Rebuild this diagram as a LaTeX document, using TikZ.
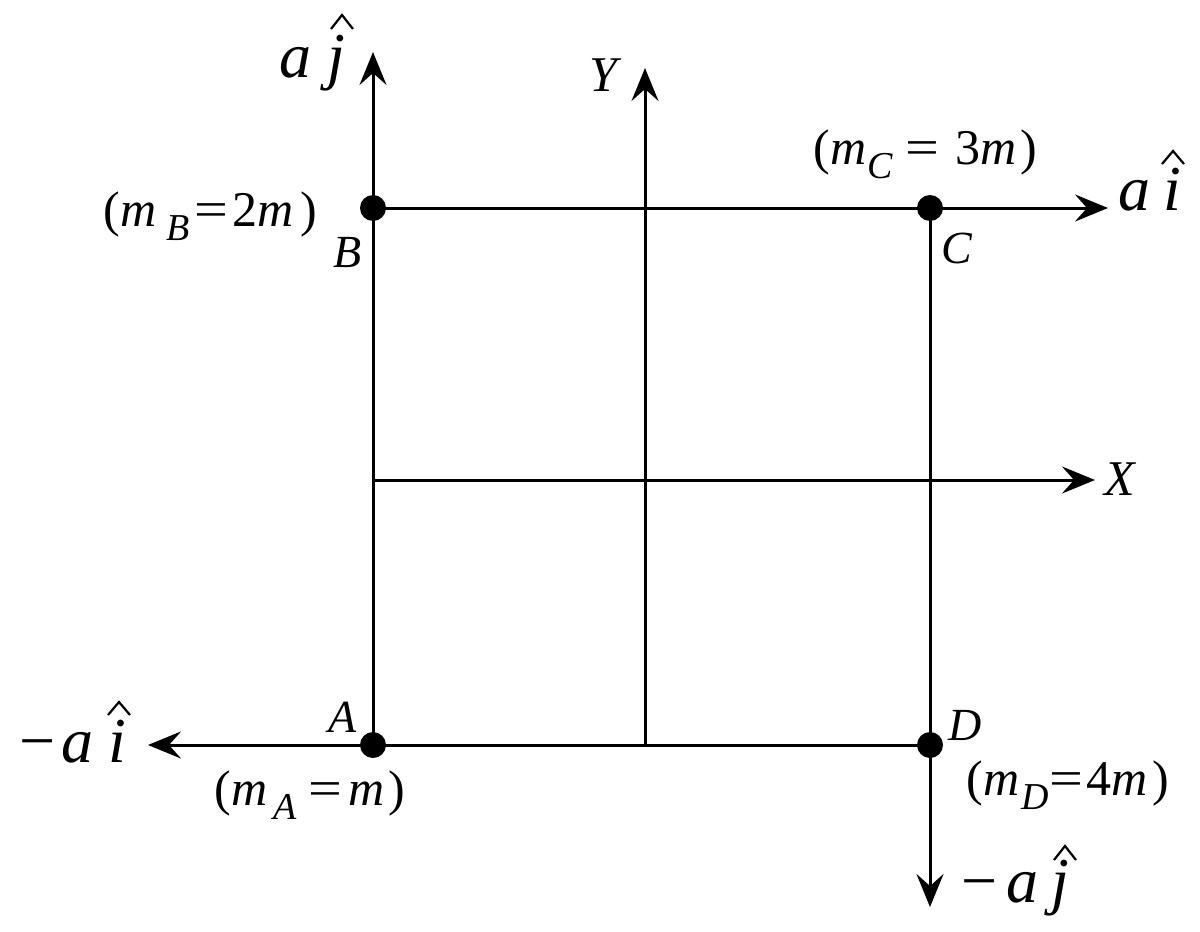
\documentclass[tikz,border=0pt]{standalone}
\usepackage{fontspec}
\usepackage{graphicx}
\setmainfont{Liberation Serif}
\usetikzlibrary{arrows.meta}
\newcommand{\msub}[1]{\raisebox{-3.6pt}{\fontsize{9.5}{10}\selectfont\textit{#1}}}
\newcommand{\wideeq}{\scalebox{1.2}[1]{=}}
\begin{document}
\begin{tikzpicture}[x=0.25pt,y=-0.25pt,line width=0.75pt,
  >={Stealth[length=8.25pt,width=6.75pt,inset=3pt]},
  dot/.style={circle,fill=black,inner sep=0pt,minimum size=6.5pt},
  ptlabel/.style={font=\fontsize{11.5}{12}\selectfont\itshape,inner sep=0pt,anchor=base west},
  mass/.style={font=\fontsize{12.5}{14}\selectfont,inner sep=0pt,anchor=base west},
  veclabel/.style={font=\fontsize{16}{17}\selectfont\itshape,inner sep=0pt,anchor=base west},
  axlabel/.style={font=\fontsize{12.5}{13}\selectfont\itshape,inner sep=0pt,anchor=base west},
  hatmark/.style={line width=0.55pt,line join=miter}]
\useasboundingbox (0,0) rectangle (1200,932);

% arrow ends and axis ends
\coordinate (tAJ) at (373,52);
\coordinate (tAI) at (1108,208);
\coordinate (tMAI) at (148,745);
\coordinate (tMAJ) at (930,907);
\coordinate (yb) at (645,745);
\coordinate (yt) at (645,68);
\coordinate (xl) at (373,480);
\coordinate (xr) at (1095,480);

% masses
\node[dot] (A) at (373,745) {};
\node[dot] (B) at (373,208) {};
\node[dot] (C) at (930,208) {};
\node[dot] (D) at (930,745) {};

% square
\draw (A.center) -- (B.center);
\draw (B.center) -- (C.center);
\draw (C.center) -- (D.center);
\draw (D.center) -- (A.center);

% acceleration arrows
\draw[->] (B.center) -- (tAJ);
\draw[->] (C.center) -- (tAI);
\draw[->] (A.center) -- (tMAI);
\draw[->] (D.center) -- (tMAJ);

% axes
\draw[->] (yb) -- (yt);
\draw[->] (xl) -- (xr);

% point labels
\node[ptlabel] (lA) at (327,732) {A};
\node[ptlabel] (lB) at (332,267) {B};
\node[ptlabel] (lC) at (940,263) {C};
\node[ptlabel] (lD) at (947,740) {D};

% mass labels
\node[mass] (mB) at (102,226) {(\textit{m}\hspace{2.5pt}\msub{B}\hspace{1.2pt}\wideeq\hspace{1.2pt}2\textit{m}\hspace{1.5pt})};
\node[mass] (mC) at (812,164) {(\textit{m}\hspace{0.3pt}\msub{C}\hspace{3pt}\wideeq\hspace{4pt}3\textit{m}\hspace{1pt})};
\node[mass] (mA) at (213,805) {(\textit{m}\hspace{1.5pt}\msub{A}\hspace{3pt}\wideeq\hspace{1.5pt}\textit{m}\hspace{1pt})};
\node[mass] (mD) at (965,795) {(\textit{m}\hspace{0.5pt}\msub{D}\hspace{0.3pt}\wideeq\hspace{0.75pt}4\textit{m}\hspace{1.2pt})};

% vector labels
\node[veclabel] (vA1) at (278,78) {a};
\node[veclabel] (vJ1) at (326,78) {j};
\draw[hatmark] (331,29) -- (342,15) -- (353,29);

\node[veclabel] (vA2) at (1117,210) {a};
\node[veclabel] (vI2) at (1162,210) {i};
\draw[hatmark] (1162,164) -- (1173,151) -- (1184,164);

\node[veclabel] (vM3) at (18,762) {\upshape −};
\node[veclabel] (vA3) at (60,762) {a};
\node[veclabel] (vI3) at (107,762) {i};
\draw[hatmark] (108,715) -- (119,702) -- (130,715);

\node[veclabel] (vM4) at (960,902) {\upshape −};
\node[veclabel] (vA4) at (1005,902) {a};
\node[veclabel] (vJ4) at (1050,902) {j};
\draw[hatmark] (1054,860) -- (1065,846) -- (1076,860);

% axis labels
\node[axlabel] (lY) at (588,92) {Y};
\node[axlabel] (lX) at (1103,495) {X};
\end{tikzpicture}
\end{document}
